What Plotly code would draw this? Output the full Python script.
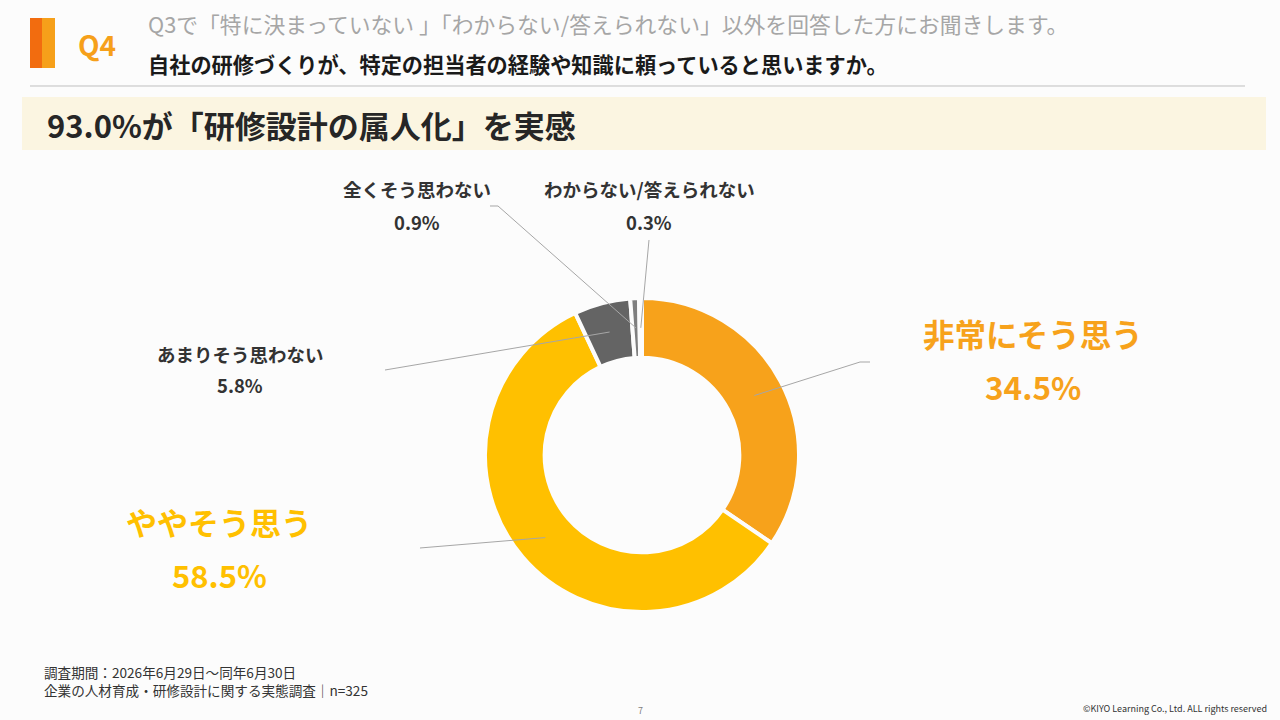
import math
import plotly.graph_objects as go

# ---- data ----
categories = ["非常にそう思う", "ややそう思う", "あまりそう思わない", "全くそう思わない", "わからない/答えられない"]
values = [34.5, 58.5, 5.8, 0.9, 0.3]
colors = ["#F7A21B", "#FFC000", "#646464", "#7F7F7F", "#A6A6A6"]

W, H = 1280, 720
FONT = "Noto Sans CJK JP"
BG = "#FCFCFC"

def px(x):
    return x / W

def py(y):
    return 1 - y / H

# pie geometry (pixels)
CX, CY, R = 642, 455, 157
HOLE = 0.62

fig = go.Figure()
fig.add_trace(go.Pie(
    labels=categories, values=values, sort=False, direction="clockwise", rotation=0,
    hole=HOLE, textinfo="none", hoverinfo="skip", showlegend=False,
    marker=dict(colors=colors, line=dict(color=BG, width=4)),
    domain=dict(x=[px(CX - R), px(CX + R)], y=[py(CY + R), py(CY - R)]),
))

# label layout: (label center x, name y, value y, size, color, leader end points)
label_cfg = [
    dict(x=1033, y1=333, y2=386, size=31.5, color="#F7A21B", leader=[(860, 362), (870, 362)]),
    dict(x=219, y1=521, y2=574, size=31, color="#FFC000", leader=[(420, 548)]),
    dict(x=240, y1=354, y2=385, size=18.5, color="#333333", leader=[(385, 370)]),
    dict(x=417, y1=189, y2=222, size=18.5, color="#333333", leader=[(498, 206), (490, 206)]),
    dict(x=649, y1=189, y2=222, size=18.5, color="#333333", leader=[(649, 240)]),
]

annotations = []
shapes = []
total = sum(values)
cum = 0.0
for cat, val, cfg in zip(categories, values, label_cfg):
    mid = (cum + val / 2) / total * 2 * math.pi
    cum += val
    rm = R * (1 + HOLE) / 2
    sx = CX + rm * math.sin(mid)
    sy = CY - rm * math.cos(mid)
    pts = [(sx, sy)] + cfg["leader"]
    path = "M " + " L ".join(f"{px(a):.5f},{py(b):.5f}" for a, b in pts)
    shapes.append(dict(type="path", xref="paper", yref="paper", path=path,
                       line=dict(color="#A6A6A6", width=1)))
    bold = "<b>%s</b>"
    annotations.append(dict(x=px(cfg["x"]), y=py(cfg["y1"]), xref="paper", yref="paper",
                            text=bold % cat, showarrow=False, xanchor="center", yanchor="middle",
                            font=dict(family=FONT, size=cfg["size"], color=cfg["color"])))
    annotations.append(dict(x=px(cfg["x"]), y=py(cfg["y2"]), xref="paper", yref="paper",
                            text=bold % f"{val:.1f}%", showarrow=False, xanchor="center", yanchor="middle",
                            font=dict(family=FONT, size=cfg["size"], color=cfg["color"])))

# header decorations
shapes += [
    dict(type="rect", xref="paper", yref="paper", x0=px(30), x1=px(42), y0=py(68), y1=py(18),
         fillcolor="#F26C0F", line=dict(width=0), layer="below"),
    dict(type="rect", xref="paper", yref="paper", x0=px(42), x1=px(55), y0=py(68), y1=py(18),
         fillcolor="#F6A01A", line=dict(width=0), layer="below"),
    dict(type="line", xref="paper", yref="paper", x0=px(30), x1=px(1245), y0=py(86), y1=py(86),
         line=dict(color="#BFBFBF", width=1)),
    dict(type="rect", xref="paper", yref="paper", x0=px(22), x1=px(1266), y0=py(150), y1=py(97),
         fillcolor="#FBF5E1", line=dict(width=0), layer="below"),
]

def txt(x, y, s, size, color, anchor="left", bold=False, family=FONT):
    annotations.append(dict(x=px(x), y=py(y), xref="paper", yref="paper",
                            text=f"<b>{s}</b>" if bold else s, showarrow=False,
                            xanchor=anchor, yanchor="middle",
                            font=dict(family=family, size=size, color=color)))

txt(76, 44, "Q4", 28, "#F6A01A", bold=True)
txt(146, 24, "Q3で「特に決まっていない 」「わからない/答えられない」以外を回答した方にお聞きします。", 21.8, "#A6A6A6")
txt(146, 63, "自社の研修づくりが、特定の担当者の経験や知識に頼っていると思いますか。", 21.2, "#1A1A1A", bold=True)
txt(45, 124, "93.0%が「研修設計の属人化」を実感", 31, "#262626", bold=True)
txt(42, 672, "調査期間：2026年6月29日～同年6月30日", 13.6, "#333333")
txt(42, 690, "企業の人材育成・研修設計に関する実態調査｜n=325", 13.6, "#333333")
txt(640, 710, "7", 9, "#7F7F7F", anchor="center")
txt(1269, 708, "©KIYO Learning Co., Ltd. ALL rights reserved", 9, "#333333", anchor="right")

fig.update_layout(
    width=W, height=H, margin=dict(l=0, r=0, t=0, b=0),
    paper_bgcolor=BG, plot_bgcolor=BG,
    annotations=annotations, shapes=shapes,
    font=dict(family=FONT),
)

fig.write_html("out.html", config={"displayModeBar": False},
               post_script="document.body.style.margin='0';document.body.style.overflow='hidden';")
